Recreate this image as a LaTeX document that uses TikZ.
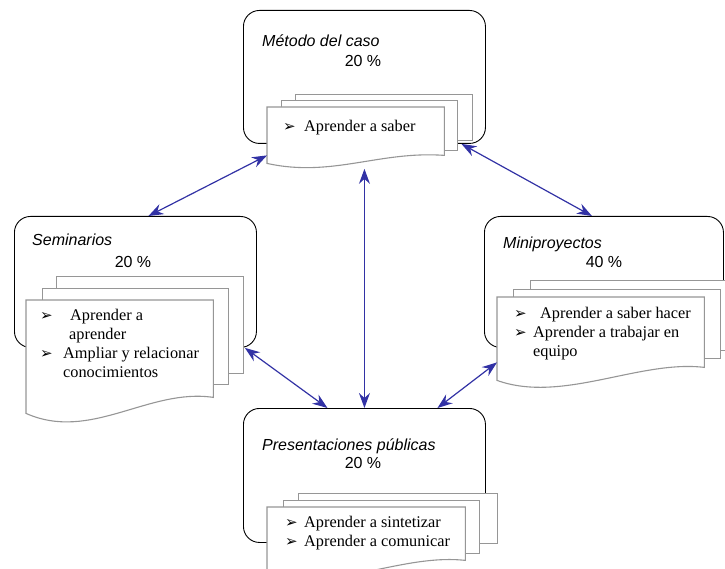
\documentclass[tikz,border=0pt]{standalone}
\usepackage{fontspec}
\setmainfont{Liberation Serif}
\setsansfont{Liberation Sans}
\newfontfamily\dingfont{DejaVu Sans}
\usetikzlibrary{arrows.meta}
\definecolor{linkblue}{RGB}{50,50,165}
\definecolor{pagegray}{RGB}{150,150,150}
\newcommand{\bul}[1]{\makebox[#1][l]{\dingfont\fontsize{15}{15}\selectfont ➢}}
\newcommand{\wavypage}[2]{\draw[page] (#1.north west) -- (#1.north east) -- (#1.south east)
  .. controls +(-65,-0.6*#2) and +(65,1.8*#2) .. ([yshift=-#2pt]#1.south west) -- cycle;}

\begin{document}
\begin{tikzpicture}[x=1pt,y=-1pt,
                    frame/.style={draw,rounded corners=16pt,line width=0.9pt,fill=white,inner sep=0,anchor=north west},
                    page/.style={draw=pagegray,line width=1.1pt,fill=white},
                    pagebox/.style={page,inner sep=0,anchor=north west},
                    frontbox/.style={inner sep=0,anchor=north west},
                    title/.style={anchor=base west,inner sep=0,font=\sffamily\itshape\fontsize{16}{19}\selectfont},
                    pct/.style={anchor=base,inner sep=0,font=\sffamily\fontsize{16}{19}\selectfont},
                    items/.style={anchor=base west,inner sep=0,font=\fontsize{16.3}{19}\selectfont},
                    link/.style={<->,draw=linkblue,line width=1.2pt},
                    >={Stealth[length=15pt,width=11pt,inset=5pt]}]
\useasboundingbox (0,0) rectangle (725,569);

% Metodo del caso
\node[frame,minimum width=242pt,minimum height=133pt] (met) at (243,10) {};
\node[pagebox,minimum width=177pt,minimum height=46pt] (metback) at (295,94) {};
\node[pagebox,minimum width=176pt,minimum height=50pt] (metmid) at (281,100) {};
\node[frontbox,minimum width=177pt,minimum height=48pt] (metfront) at (267,107) {};
\wavypage{metfront}{8}
\node[title] (mettitle) at (262,47) {Método del caso};
\node[pct] (metpct) at (363,67) {20 \%};
\node[items] (metlist) at (283,132) {\bul{21pt}Aprender a saber};

% Seminarios
\node[frame,minimum width=242pt,minimum height=131pt] (sem) at (14,216) {};
\node[pagebox,minimum width=187pt,minimum height=97pt] (semback) at (56,276) {};
\node[pagebox,minimum width=186pt,minimum height=96pt] (semmid) at (42,288) {};
\node[frontbox,minimum width=187pt,minimum height=97pt] (semfront) at (26,300) {};
\wavypage{semfront}{16}
\node[title] (semtitle) at (32,246) {Seminarios};
\node[pct] (sempct) at (133,267) {20 \%};
\node[items] (semlist) at (40,320) {\begin{tabular}[t]{@{}l@{}}
  \bul{30pt}Aprender a\\
  \hspace*{29pt}aprender\\
  \bul{23pt}Ampliar y relacionar\\
  \hspace*{23pt}conocimientos
\end{tabular}};

% Miniproyectos
\node[frame,minimum width=239pt,minimum height=131pt] (mini) at (484,216) {};
\node[pagebox,minimum width=210pt,minimum height=70pt] (miniback) at (530,280) {};
\node[pagebox,minimum width=207pt,minimum height=69pt] (minimid) at (513,289) {};
\node[frontbox,minimum width=207pt,minimum height=70pt] (minifront) at (497,297) {};
\wavypage{minifront}{13}
\node[title] (minititle) at (503,248) {Miniproyectos};
\node[pct] (minipct) at (604,268) {40 \%};
\node[items] (minilist) at (514,318) {\begin{tabular}[t]{@{}l@{}}
  \bul{26pt}Aprender a saber hacer\\
  \bul{19pt}Aprender a trabajar en\\
  \hspace*{19pt}equipo
\end{tabular}};

% Presentaciones publicas
\node[frame,minimum width=242pt,minimum height=134pt] (pres) at (243,408) {};
\node[pagebox,minimum width=199pt,minimum height=50pt] (presback) at (298,493) {};
\node[pagebox,minimum width=196pt,minimum height=53pt] (presmid) at (283,500) {};
\node[frontbox,minimum width=198pt,minimum height=53pt] (presfront) at (267,507) {};
\wavypage{presfront}{12}
\node[title] (prestitle) at (262,450) {Presentaciones públicas};
\node[pct] (prespct) at (363,468) {20 \%};
\node[items] (preslist) at (285,527) {\begin{tabular}[t]{@{}l@{}}
  \bul{19pt}Aprender a sintetizar\\
  \bul{19pt}Aprender a comunicar
\end{tabular}};

% connectors
\draw[link] (metfront.south west) -- ([xshift=13pt]sem.north);
\draw[link] ([xshift=97pt]met.south) -- ([xshift=-12pt]mini.north);
\draw[link] ([yshift=-25pt]met.south) -- (pres.north);
\draw[link] ([xshift=-12pt]sem.south east) -- ([xshift=-37pt]pres.north);
\draw[link] ([yshift=5pt]minifront.south west) -- ([xshift=73pt]pres.north);
\end{tikzpicture}
\end{document}
